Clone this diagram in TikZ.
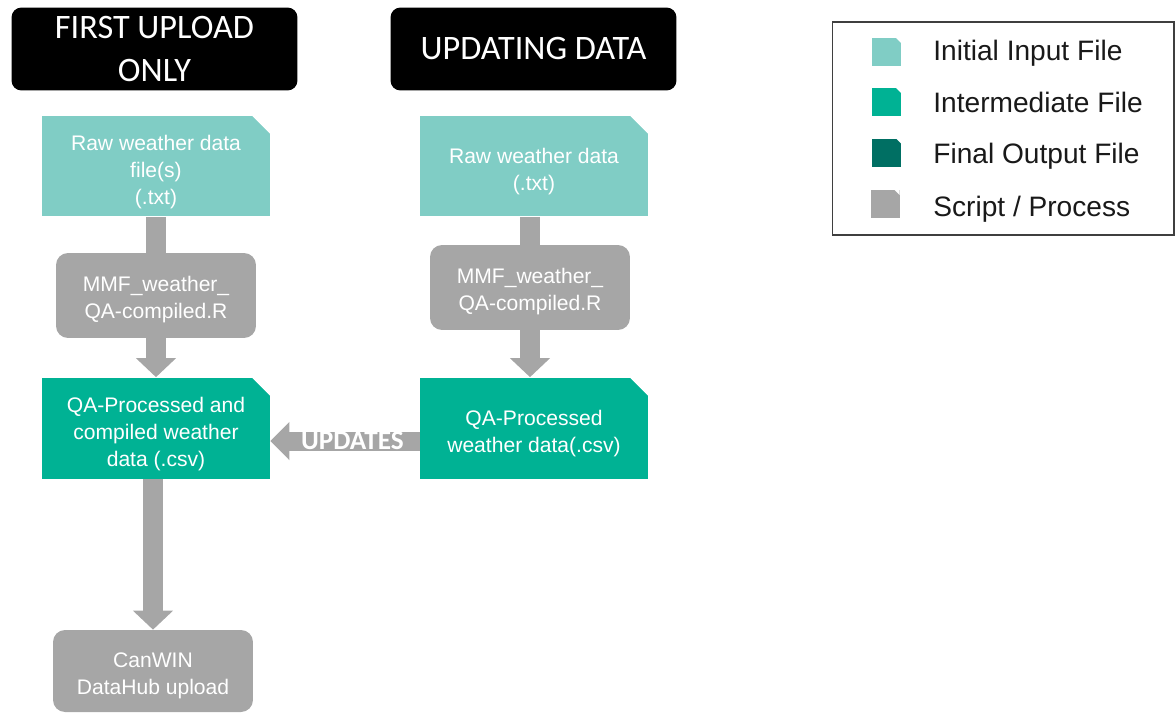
\documentclass[tikz,border=0pt]{standalone}
\usepackage{fontspec}
\setmainfont{Liberation Sans}
\newfontfamily\hdrfont{Carlito}
\usetikzlibrary{arrows.meta}

\definecolor{initfill}{HTML}{80CDC5}
\definecolor{interfill}{HTML}{00B294}
\definecolor{finalfill}{HTML}{006F63}
\definecolor{procfill}{HTML}{A6A6A6}
\definecolor{legendline}{HTML}{3F3F3F}

% strut that pushes box text a little down
\newcommand{\filestrut}{\rule{0pt}{15.4pt}}
\newcommand{\procstrut}{\rule{0pt}{13.4pt}}

\tikzset{
  header/.style={fill=black, rounded corners=0.2cm, minimum width=5.72cm, minimum height=1.66cm,
    inner sep=0pt, text=white, align=center, font=\hdrfont\fontsize{19.5}{24.4}\selectfont},
  % snipped top right corner of a file
  snip/.style={path picture={\fill[white] ([xshift=-#1]path picture bounding box.north east)
    -- (path picture bounding box.north east) -- ([yshift=-#1]path picture bounding box.north east) -- cycle;}},
  filebox/.style={snip=0.36cm, minimum width=4.56cm, minimum height=2.02cm, inner sep=0pt,
    text=white, align=center, font=\fontsize{12}{15.4}\selectfont},
  procbox/.style={fill=procfill, rounded corners=0.24cm, minimum width=4cm, minimum height=1.7cm,
    inner sep=0pt, text=white, align=center, font=\fontsize{12}{15.4}\selectfont},
  keybox/.style={snip=0.1cm, minimum width=0.58cm, minimum height=0.56cm, inner sep=0pt},
  keytext/.style={anchor=base west, inner sep=0pt, text=black!90, font=\fontsize{16}{16}\selectfont},
  stem/.style={draw=procfill, line width=0.4cm},
  blockarrow/.style={stem, -{Triangle[width=0.78cm, length=0.38cm]}}
}

\begin{document}
\begin{tikzpicture}[x=0.02cm, y=-0.02cm]
    \useasboundingbox (0,0) rectangle (1176,714);

    % Column headers
    \node[header] (hdrfirst) at (154.5,49) {FIRST UPLOAD\\ONLY};
    \node[header] (hdrupdate) at (533.5,49) {UPDATING DATA};

    % First upload column
    \node[filebox, fill=initfill] (rawfirst) at (156,166) {\filestrut Raw weather data\\file(s)\\(.txt)};
    \node[procbox] (scrfirst) at (156,295.5) {\procstrut MMF\_weather\_\\QA-compiled.R};
    \node[filebox, fill=interfill] (qafirst) at (156,428) {\filestrut QA-Processed and\\compiled weather\\data (.csv)};
    \node[procbox, minimum height=1.64cm] (canwin) at (153,671) {\procstrut CanWIN\\DataHub upload};

    % Updating column
    \node[filebox, fill=initfill] (rawupdate) at (534,166) {\filestrut Raw weather data\\(.txt)};
    \node[procbox] (scrupdate) at (530,287.5) {\procstrut MMF\_weather\_\\QA-compiled.R};
    \node[filebox, fill=interfill] (qaupdate) at (534,428) {\filestrut QA-Processed\\weather data(.csv)};

    % Draw arrows
    \draw[stem] (scrfirst.north |- rawfirst.south) -- (scrfirst.north);
    \draw[blockarrow] (scrfirst.south) -- (scrfirst.south |- qafirst.north);
    \draw[blockarrow] (canwin.north |- qafirst.south) -- (canwin.north);
    \draw[stem] (scrupdate.north |- rawupdate.south) -- (scrupdate.north);
    \draw[blockarrow] (scrupdate.south) -- (scrupdate.south |- qaupdate.north);
    \coordinate (upd) at (0,441);
    \draw[stem, line width=0.38cm, -{Triangle[width=0.74cm, length=0.38cm]}]
        (qaupdate.west |- upd) -- node[pos=0.45, inner sep=0pt, text=white,
        font=\hdrfont\bfseries\fontsize{15.5}{15.5}\selectfont] (updlabel) {UPDATES} (qafirst.east |- upd);

    % Legend
    \node[draw=legendline, line width=0.6pt, minimum width=6.84cm, minimum height=4.26cm] (legend) at (1003,128.5) {};
    \node[keybox, fill=initfill] (keyinit) at (886.5,52) {};
    \node[keybox, fill=interfill] (keyinter) at (886.5,102) {};
    \node[keybox, fill=finalfill] (keyfinal) at (886.5,152.5) {};
    \node[keybox, fill=procfill] (keyproc) at (885,204) {};
    \node[keytext] (txtinit) at (933,60.5) {Initial Input File};
    \node[keytext] (txtinter) at (933,112) {Intermediate File};
    \node[keytext] (txtfinal) at (933,163) {Final Output File};
    \node[keytext] (txtproc) at (933,216) {Script / Process};
\end{tikzpicture}
\end{document}
